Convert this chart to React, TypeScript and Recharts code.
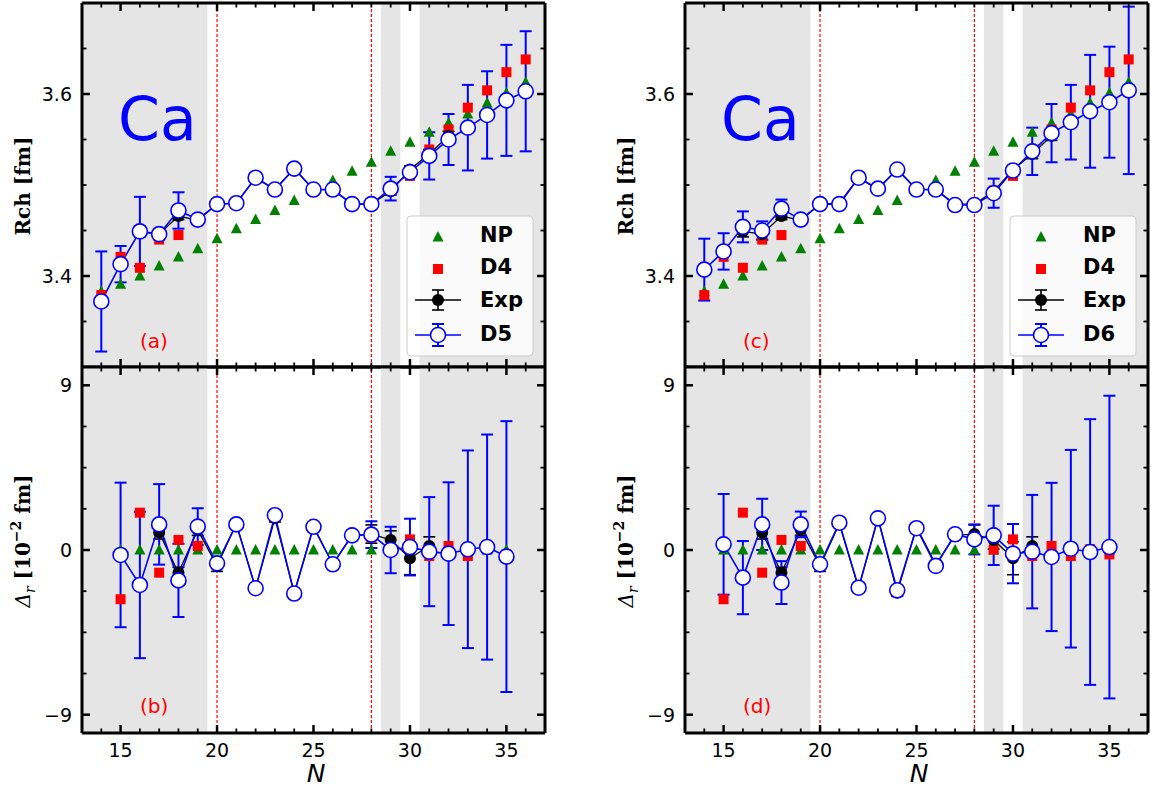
import React from 'react';
import { ComposedChart, Line, XAxis, YAxis, ReferenceArea, ReferenceLine, ErrorBar } from 'recharts';

// ---------- data ----------
const nTop = [14, 15, 16, 17, 18, 19, 20, 21, 22, 23, 24, 25, 26, 27, 28, 29, 30, 31, 32, 33, 34, 35, 36];
const npR = [3.383, 3.391, 3.400, 3.411, 3.421, 3.430, 3.441, 3.452, 3.462, 3.472, 3.483, 3.493, 3.505, 3.515, 3.525, 3.537, 3.547, 3.558, 3.568, 3.578, 3.590, 3.601, 3.613];
const d4R = [3.379, 3.421, 3.409, 3.440, 3.445, 3.460, 3.478, 3.480, 3.507, 3.495, 3.517, 3.494, 3.494, 3.478, 3.478, 3.494, 3.510, 3.539, 3.561, 3.585, 3.604, 3.624, 3.638];
const expN = [16, 17, 18, 19, 20, 21, 22, 23, 24, 25, 26, 27, 28, 29, 30, 31, 32];
const expR = [3.449, 3.446, 3.466, 3.461, 3.479, 3.480, 3.508, 3.495, 3.518, 3.495, 3.495, 3.479, 3.479, 3.493, 3.517, 3.534, 3.554];
const expRErr = [0.006, 0.006, 0.004, 0.004, 0.002, 0.002, 0.002, 0.002, 0.002, 0.002, 0.002, 0.002, 0.002, 0.004, 0.004, 0.005, 0.005];
const d5R = [3.372, 3.413, 3.449, 3.446, 3.472, 3.462, 3.479, 3.480, 3.508, 3.495, 3.518, 3.495, 3.495, 3.479, 3.479, 3.496, 3.514, 3.532, 3.550, 3.563, 3.577, 3.593, 3.603];
const d5RErr = [0.055, 0.020, 0.038, 0.004, 0.020, 0.003, 0.002, 0.002, 0.002, 0.002, 0.002, 0.002, 0.002, 0.002, 0.002, 0.013, 0.004, 0.026, 0.028, 0.047, 0.048, 0.061, 0.066];
const d6R = [3.407, 3.427, 3.454, 3.450, 3.474, 3.462, 3.479, 3.479, 3.508, 3.496, 3.517, 3.495, 3.495, 3.478, 3.478, 3.491, 3.516, 3.537, 3.557, 3.569, 3.581, 3.591, 3.604];
const d6RErr = [0.034, 0.020, 0.017, 0.010, 0.010, 0.003, 0.002, 0.002, 0.002, 0.002, 0.002, 0.002, 0.002, 0.002, 0.002, 0.016, 0.005, 0.026, 0.032, 0.041, 0.062, 0.061, 0.092];

const nRes = [15, 16, 17, 18, 19, 20, 21, 22, 23, 24, 25, 26, 27, 28, 29, 30, 31, 32, 33, 34, 35];
const npRes = [0, 0, 0, 0, 0, 0, 0, 0, 0, 0, 0, 0, 0, 0, 0, 0, 0, 0, 0, 0, 0];
const d4Res = [-2.69, 2.04, -1.24, 0.55, 0.22, -0.8, 1.4, -2.1, 1.75, -2.3, 1.25, -0.8, 0.8, 0.67, 0.02, 0.58, -0.33, 0.22, -0.33, 0.04, -0.24];
const expResN = [17, 18, 19, 20, 21, 22, 23, 24, 25, 26, 27, 28, 29, 30, 31];
const expRes = [0.95, -1.24, 1.1, -0.87, 1.43, -2.09, 1.73, -2.33, 1.26, -0.78, 0.8, 0.87, 0.55, -0.45, 0.22];
const expResErr = [0.35, 0.3, 0.3, 0.3, 0.2, 0.2, 0.2, 0.2, 0.2, 0.2, 0.2, 0.5, 0.5, 0.9, 0.5];
const d5Res = [-0.27, -1.91, 1.40, -1.66, 1.28, -0.73, 1.40, -2.09, 1.90, -2.38, 1.27, -0.78, 0.80, 0.84, 0.00, 0.16, -0.09, -0.20, 0.04, 0.16, -0.36];
const d5ResErr = [3.95, 4.0, 2.2, 2.0, 1.0, 0.25, 0.2, 0.2, 0.2, 0.2, 0.2, 0.2, 0.2, 0.73, 1.27, 1.55, 2.98, 3.9, 5.4, 6.15, 7.4];
const d6Res = [0.31, -1.51, 1.40, -1.78, 1.40, -0.78, 1.49, -2.06, 1.73, -2.20, 1.19, -0.87, 0.86, 0.58, 0.80, -0.20, -0.09, -0.38, 0.07, -0.11, 0.16];
const d6ResErr = [2.75, 2.0, 1.4, 1.17, 0.7, 0.25, 0.2, 0.2, 0.2, 0.2, 0.2, 0.2, 0.2, 0.82, 1.62, 1.62, 3.1, 4.05, 5.4, 7.26, 8.27];

// ---------- ticks ----------
const xTicks = [14, 15, 16, 17, 18, 19, 20, 21, 22, 23, 24, 25, 26, 27, 28, 29, 30, 31, 32, 33, 34, 35, 36];
const xMajor = [15, 20, 25, 30, 35];
const yTopTicks = [3.35, 3.4, 3.45, 3.5, 3.55, 3.6, 3.65];
const yTopMajor = [3.4, 3.6];
const yResTicks = [-9, -6.75, -4.5, -2.25, 0, 2.25, 4.5, 6.75, 9];
const yResMajor = [-9, 0, 9];
const shadeBands = [[13, 19.5], [28.5, 29.5], [30.5, 37]];
const magicLines = [20, 28];

const rows = (ns: number[], vs: number[], es?: number[]) =>
  ns.map((n, i) => ({ n, v: vs[i], e: es ? es[i] : 0 }));

// ---------- styles ----------
const GRAY = '#e5e5e5';
const BLUE = '#0000ff';
const GREEN = '#008000';
const RED = '#ff0000';
const TICK_FONT = 'DejaVu Sans';
const axisLineStyle = { stroke: '#000', strokeWidth: 3 };

const isMajor = (v: number, arr: number[]) => arr.some((m) => Math.abs(m - v) < 1e-6);
const fmtNum = (v: number) => (v < 0 ? '\u2212' + String(Math.abs(v)) : String(v));

const xTick = (side: 'top' | 'bottom', label: boolean) => (p: any) => {
  const { x, y, payload } = p;
  const v = payload.value;
  const major = isMajor(v, xMajor);
  const len = major ? 8 : 4.5;
  const dir = side === 'bottom' ? -1 : 1;
  return (
    <g>
      <line x1={x} x2={x} y1={y} y2={y + dir * len} stroke="#000" strokeWidth={major ? 2.5 : 1.8} />
      {label && major ? (
        <text x={x} y={y + 24} textAnchor="middle" fontSize={19} fontFamily={TICK_FONT} fill="#000">
          {v}
        </text>
      ) : null}
    </g>
  );
};

const yTick = (side: 'left' | 'right', majors: number[], label: boolean) => (p: any) => {
  const { x, y, payload } = p;
  const v = payload.value;
  const major = isMajor(v, majors);
  const len = major ? 8 : 4.5;
  const dir = side === 'left' ? 1 : -1;
  return (
    <g>
      <line x1={x} x2={x + dir * len} y1={y} y2={y} stroke="#000" strokeWidth={major ? 2.5 : 1.8} />
      {label && major ? (
        <text x={x - 10} y={y + 7} textAnchor="end" fontSize={19} fontFamily={TICK_FONT} fill="#000">
          {fmtNum(v)}
        </text>
      ) : null}
    </g>
  );
};

// ---------- marker shapes ----------
const triDot = (p: any) => {
  if (p.cx == null || p.cy == null) return <g key={p.index} />;
  const { cx, cy } = p;
  return (
    <polygon
      key={p.index}
      points={`${cx},${cy - 6} ${cx - 5.5},${cy + 4.5} ${cx + 5.5},${cy + 4.5}`}
      fill={GREEN}
    />
  );
};
const sqDot = (p: any) => {
  if (p.cx == null || p.cy == null) return <g key={p.index} />;
  return <rect key={p.index} x={p.cx - 5} y={p.cy - 5} width={10} height={10} fill={RED} />;
};
const expDot = (p: any) => {
  if (p.cx == null || p.cy == null) return <g key={p.index} />;
  return <circle key={p.index} cx={p.cx} cy={p.cy} r={6} fill="#000" />;
};
const openDot = (p: any) => {
  if (p.cx == null || p.cy == null) return <g key={p.index} />;
  return <circle key={p.index} cx={p.cx} cy={p.cy} r={7.5} fill="#fff" stroke={BLUE} strokeWidth={1.6} />;
};

// ---------- panel ----------
type PanelProps = {
  left: number;
  top: number;
  width: number;
  height: number;
  margin: { top: number; right: number; bottom: number; left: number };
  yDomain: [number, number];
  yTicks: number[];
  yMajor: number[];
  bottomLabels: boolean;
  np: any[];
  d4: any[];
  exp: any[];
  model: any[];
};

function Panel(props: PanelProps) {
  const { left, top, width, height, margin, yDomain, yTicks, yMajor, bottomLabels, np, d4, exp, model } = props;
  return (
    <div style={{ position: 'absolute', left, top, width, height }}>
      <ComposedChart width={width} height={height} margin={margin} style={{ overflow: 'visible' }}>
        <XAxis
          xAxisId="x"
          type="number"
          dataKey="n"
          domain={[13, 37]}
          ticks={xTicks}
          interval={0}
          height={1}
          tickSize={0}
          tickMargin={0}
          tickLine={false}
          axisLine={axisLineStyle}
          tick={xTick('bottom', bottomLabels)}
          allowDataOverflow
        />
        <XAxis
          xAxisId="xt"
          orientation="top"
          type="number"
          dataKey="n"
          domain={[13, 37]}
          ticks={xTicks}
          interval={0}
          height={1}
          tickSize={0}
          tickMargin={0}
          tickLine={false}
          axisLine={axisLineStyle}
          tick={xTick('top', false)}
          allowDataOverflow
        />
        <YAxis
          yAxisId="y"
          type="number"
          domain={yDomain}
          ticks={yTicks}
          interval={0}
          width={1}
          tickSize={0}
          tickMargin={0}
          tickLine={false}
          axisLine={axisLineStyle}
          tick={yTick('left', yMajor, true)}
          allowDataOverflow
        />
        <YAxis
          yAxisId="yr"
          orientation="right"
          type="number"
          domain={yDomain}
          ticks={yTicks}
          interval={0}
          width={1}
          tickSize={0}
          tickMargin={0}
          tickLine={false}
          axisLine={axisLineStyle}
          tick={yTick('right', yMajor, false)}
          allowDataOverflow
        />
        {shadeBands.map((b, i) => (
          <ReferenceArea
            key={'band' + i}
            xAxisId="x"
            yAxisId="y"
            x1={b[0]}
            x2={b[1]}
            y1={yDomain[0]}
            y2={yDomain[1]}
            fill={GRAY}
            fillOpacity={1}
            stroke="none"
          />
        ))}
        {magicLines.map((m) => (
          <ReferenceLine
            key={'ml' + m}
            xAxisId="x"
            yAxisId="y"
            x={m}
            stroke={RED}
            strokeWidth={1.2}
            strokeDasharray="3 2"
          />
        ))}
        <Line
          xAxisId="x"
          yAxisId="y"
          data={np}
          dataKey="v"
          stroke="none"
          dot={triDot}
          activeDot={false}
          isAnimationActive={false}
        />
        <Line
          xAxisId="x"
          yAxisId="y"
          data={d4}
          dataKey="v"
          stroke="none"
          dot={sqDot}
          activeDot={false}
          isAnimationActive={false}
        />
        <Line
          xAxisId="x"
          yAxisId="y"
          data={exp}
          dataKey="v"
          type="linear"
          stroke="#000"
          strokeWidth={1.3}
          dot={expDot}
          activeDot={false}
          isAnimationActive={false}
        >
          <ErrorBar dataKey="e" width={6} stroke="#000" strokeWidth={1.6} direction="y" isAnimationActive={false} />
        </Line>
        <Line
          xAxisId="x"
          yAxisId="y"
          data={model}
          dataKey="v"
          type="linear"
          stroke={BLUE}
          strokeWidth={1.6}
          dot={openDot}
          activeDot={false}
          isAnimationActive={false}
        >
          <ErrorBar dataKey="e" width={6} stroke={BLUE} strokeWidth={2} direction="y" isAnimationActive={false} />
        </Line>
      </ComposedChart>
    </div>
  );
}

// ---------- legend & annotations ----------
function LegendBox({ x, y, model }: { x: number; y: number; model: string }) {
  const cx = x + 31;
  const tx = x + 73;
  const txtStyle = { fontFamily: 'DejaVu Sans', fontWeight: 'bold' as const, fontSize: 21, fill: '#000' };
  return (
    <g>
      <rect x={x} y={y} width={126} height={140} rx={4} ry={4} fill="#ffffff" fillOpacity={0.8} stroke="#cccccc" strokeWidth={1} />
      <polygon points={`${cx},${y + 15} ${cx - 5.5},${y + 25.5} ${cx + 5.5},${y + 25.5}`} fill={GREEN} />
      <text x={tx} y={y + 26} {...txtStyle}>NP</text>
      <rect x={cx - 5} y={y + 48} width={10} height={10} fill={RED} />
      <text x={tx} y={y + 58} {...txtStyle}>D4</text>
      <line x1={cx - 23} x2={cx + 23} y1={y + 84} y2={y + 84} stroke="#000" strokeWidth={1.3} />
      <line x1={cx} x2={cx} y1={y + 74} y2={y + 94} stroke="#000" strokeWidth={1.6} />
      <line x1={cx - 6} x2={cx + 6} y1={y + 74} y2={y + 74} stroke="#000" strokeWidth={1.6} />
      <line x1={cx - 6} x2={cx + 6} y1={y + 94} y2={y + 94} stroke="#000" strokeWidth={1.6} />
      <circle cx={cx} cy={y + 84} r={6} fill="#000" />
      <text x={tx} y={y + 91} {...txtStyle}>Exp</text>
      <line x1={cx - 23} x2={cx + 23} y1={y + 119} y2={y + 119} stroke={BLUE} strokeWidth={1.6} />
      <line x1={cx} x2={cx} y1={y + 108} y2={y + 130} stroke={BLUE} strokeWidth={2} />
      <line x1={cx - 6} x2={cx + 6} y1={y + 108} y2={y + 108} stroke={BLUE} strokeWidth={2} />
      <line x1={cx - 6} x2={cx + 6} y1={y + 130} y2={y + 130} stroke={BLUE} strokeWidth={2} />
      <circle cx={cx} cy={y + 119} r={7.5} fill="#fff" stroke={BLUE} strokeWidth={1.6} />
      <text x={tx} y={y + 125} {...txtStyle}>{model}</text>
    </g>
  );
}

function Annotations({ dx, tag1, tag2, model }: { dx: number; tag1: string; tag2: string; model: string }) {
  const serifBold = { fontFamily: 'DejaVu Serif', fontWeight: 'bold' as const, fontSize: 20, fill: '#000' };
  return (
    <g>
      <text x={118 + dx} y={140} fontFamily="DejaVu Sans" fontSize={60} fill={BLUE}>Ca</text>
      <text x={140 + dx} y={348} fontFamily="DejaVu Sans" fontSize={20} fill={RED}>{tag1}</text>
      <text x={140 + dx} y={713} fontFamily="DejaVu Sans" fontSize={20} fill={RED}>{tag2}</text>
      <LegendBox x={407 + dx} y={216} model={model} />
      <text x={30 + dx} y={186} transform={`rotate(-90 ${30 + dx} 186)`} textAnchor="middle" {...serifBold}>
        Rch [fm]
      </text>
      <text x={30 + dx} y={541} transform={`rotate(-90 ${30 + dx} 541)`} textAnchor="middle" {...serifBold}>
        <tspan fontStyle="italic" fontWeight="normal">Δ</tspan>
        <tspan fontStyle="italic" fontWeight="normal" fontSize={14} dy={5}>r</tspan>
        <tspan dy={-5}> [10</tspan>
        <tspan fontSize={14} dy={-9}>{'\u2212'}2</tspan>
        <tspan dy={9}> fm]</tspan>
      </text>
      <text x={316 + dx} y={782} textAnchor="middle" fontFamily="DejaVu Sans" fontStyle="italic" fontSize={25} fill="#000">
        N
      </text>
    </g>
  );
}

export default function App() {
  const npTopRows = rows(nTop, npR);
  const d4TopRows = rows(nTop, d4R);
  const expTopRows = rows(expN, expR, expRErr);
  const d5TopRows = rows(nTop, d5R, d5RErr);
  const d6TopRows = rows(nTop, d6R, d6RErr);
  const npResRows = rows(nRes, npRes);
  const d4ResRows = rows(nRes, d4Res);
  const expResRows = rows(expResN, expRes, expResErr);
  const d5ResRows = rows(nRes, d5Res, d5ResErr);
  const d6ResRows = rows(nRes, d6Res, d6ResErr);

  const topMarginA = { top: 2, right: 14, bottom: 12, left: 81 };
  const botMarginA = { top: 6, right: 14, bottom: 55, left: 81 };
  const topMarginC = { top: 2, right: 2, bottom: 12, left: 84 };
  const botMarginC = { top: 6, right: 2, bottom: 55, left: 84 };

  return (
    <div style={{ position: 'absolute', left: 0, top: 0, width: 1151, height: 789, background: '#fff', overflow: 'hidden' }}>
      <Panel left={0} top={0} width={560} height={380} margin={topMarginA} yDomain={[3.3, 3.7]} yTicks={yTopTicks} yMajor={yTopMajor}
        bottomLabels={false} np={npTopRows} d4={d4TopRows} exp={expTopRows} model={d5TopRows} />
      <Panel left={0} top={360} width={560} height={429} margin={botMarginA} yDomain={[-10, 10]} yTicks={yResTicks} yMajor={yResMajor}
        bottomLabels={true} np={npResRows} d4={d4ResRows} exp={expResRows} model={d5ResRows} />
      <Panel left={600} top={0} width={551} height={380} margin={topMarginC} yDomain={[3.3, 3.7]} yTicks={yTopTicks} yMajor={yTopMajor}
        bottomLabels={false} np={npTopRows} d4={d4TopRows} exp={expTopRows} model={d6TopRows} />
      <Panel left={600} top={360} width={551} height={429} margin={botMarginC} yDomain={[-10, 10]} yTicks={yResTicks} yMajor={yResMajor}
        bottomLabels={true} np={npResRows} d4={d4ResRows} exp={expResRows} model={d6ResRows} />
      <svg width={1151} height={789} style={{ position: 'absolute', left: 0, top: 0, pointerEvents: 'none' }}>
        <Annotations dx={0} tag1="(a)" tag2="(b)" model="D5" />
        <Annotations dx={603} tag1="(c)" tag2="(d)" model="D6" />
      </svg>
    </div>
  );
}
